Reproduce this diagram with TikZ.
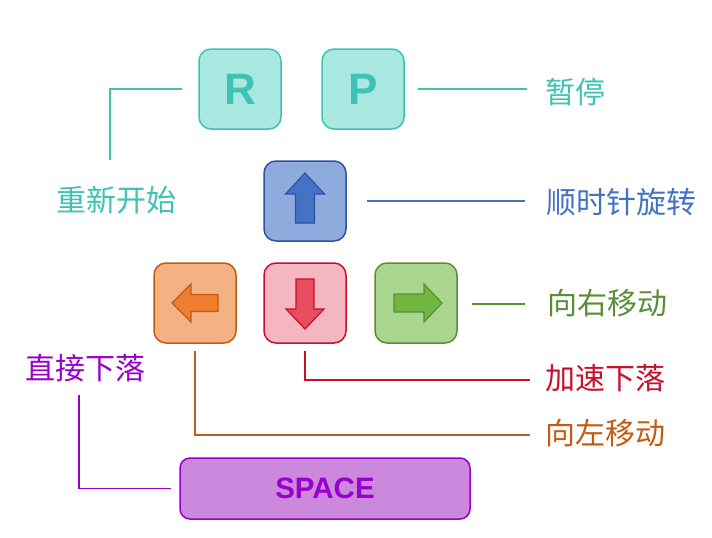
\documentclass[tikz,border=0pt]{standalone}
\usepackage{fontspec}
\setmainfont{Liberation Sans}
\newfontfamily\cjk{Noto Sans CJK SC}
\definecolor{tealB}{HTML}{3CC3B3}
\definecolor{tealF}{HTML}{A8E8E1}
\definecolor{blueB}{HTML}{2F52A0}
\definecolor{blueF}{HTML}{8FAADC}
\definecolor{blueA}{HTML}{4472C4}
\definecolor{oraB}{HTML}{C55A11}
\definecolor{oraF}{HTML}{F4B183}
\definecolor{oraA}{HTML}{ED7D31}
\definecolor{redB}{HTML}{C8102E}
\definecolor{redF}{HTML}{F4B6C0}
\definecolor{redA}{HTML}{E84C5E}
\definecolor{grnB}{HTML}{5A8E36}
\definecolor{grnF}{HTML}{A9D68E}
\definecolor{grnA}{HTML}{70B640}
\definecolor{purB}{HTML}{9900CC}
\definecolor{purF}{HTML}{CC88DD}
\tikzset{
  keybox/.style={draw, line width=1.5pt, rounded corners=12pt, minimum width=82pt, minimum height=80pt, inner sep=0pt},
  lbl/.style={inner sep=0pt, font=\cjk\fontsize{30}{31}\selectfont},
  link/.style={line width=1.6pt},
  keyarrow/.style={line width=1.2pt, line join=miter}
}
\begin{document}
\begin{tikzpicture}[x=1pt,y=-1pt]
\useasboundingbox (0,0) rectangle (712,538);
% keys
\node[keybox, draw=tealB, fill=tealF, text=tealB, font=\bfseries\fontsize{44}{46}\selectfont] (R) at (240,89) {R};
\node[keybox, draw=tealB, fill=tealF, text=tealB, font=\bfseries\fontsize{44}{46}\selectfont] (P) at (363,89) {P};
\node[keybox, draw=blueB, fill=blueF] (U) at (305,201) {};
\node[keybox, draw=oraB, fill=oraF] (L) at (195,303) {};
\node[keybox, draw=redB, fill=redF] (D) at (305,303) {};
\node[keybox, draw=grnB, fill=grnF] (Rt) at (416,303) {};
\node[draw=purB, fill=purF, text=purB, line width=1.5pt, rounded corners=10pt, minimum width=290pt, minimum height=61pt, inner sep=0pt, font=\bfseries\fontsize{29.5}{31}\selectfont] (S) at (325,488.5) {SPACE};
% arrows
\begin{scope}[shift={(U.center)}, yshift=3pt, rotate=90]
\draw[keyarrow, draw=blueB, fill=blueA] (-25,-9.5) -- (4,-9.5) -- (4,-19.5) -- (25,0) -- (4,19.5) -- (4,9.5) -- (-25,9.5) -- cycle;
\end{scope}
\begin{scope}[shift={(L.center)}, rotate=180]
\draw[keyarrow, draw=oraB, fill=oraA] (-23,-8.5) -- (4,-8.5) -- (4,-19) -- (23,0) -- (4,19) -- (4,8.5) -- (-23,8.5) -- cycle;
\end{scope}
\begin{scope}[shift={(D.center)}, yshift=-1pt, rotate=-90]
\draw[keyarrow, draw=redB, fill=redA] (-25,-9) -- (5,-9) -- (5,-19) -- (25,0) -- (5,19) -- (5,9) -- (-25,9) -- cycle;
\end{scope}
\begin{scope}[shift={(Rt.center)}, xshift=2pt, rotate=0]
\draw[keyarrow, draw=grnB, fill=grnA] (-24,-9) -- (6,-9) -- (6,-19) -- (24,0) -- (6,19) -- (6,9) -- (-24,9) -- cycle;
\end{scope}
% labels
\node[lbl, text=tealB, anchor=center] (restart) at (116,200) {重新开始};
\node[lbl, text=tealB, anchor=west] (pause) at (545,92) {暂停};
\node[lbl, text=blueA, anchor=west] (rot) at (546,202) {顺时针旋转};
\node[lbl, text=grnB, anchor=west] (right) at (547,303) {向右移动};
\node[lbl, text=redB, anchor=west] (fast) at (545,378) {加速下落};
\node[lbl, text=oraB, anchor=west] (left) at (545,433) {向左移动};
\node[lbl, text=purB, anchor=center] (drop) at (85,368) {直接下落};
% connectors
\coordinate (cR) at (110,160);
\coordinate (cP) at (527,89);
\coordinate (cU) at (525,201);
\coordinate (cRt) at (525,304);
\coordinate (cD) at (530,380);
\coordinate (cL) at (530,435);
\coordinate (cS) at (79,395);
\draw[link, tealB] ([xshift=-16pt]R.west) -| (cR);
\draw[link, tealB] ([xshift=13pt]P.east) -- (cP);
\draw[link, blueA] ([xshift=20pt]U.east) -- (cU);
\draw[link, grnB] ([xshift=14pt,yshift=-1pt]Rt.east) -- (cRt);
\draw[link, redB] ([yshift=-7pt]D.south) |- (cD);
\draw[link, oraB] ([yshift=-7pt]L.south) |- (cL);
\draw[link, purB] ([xshift=-8pt]S.west) -| (cS);
\end{tikzpicture}
\end{document}
